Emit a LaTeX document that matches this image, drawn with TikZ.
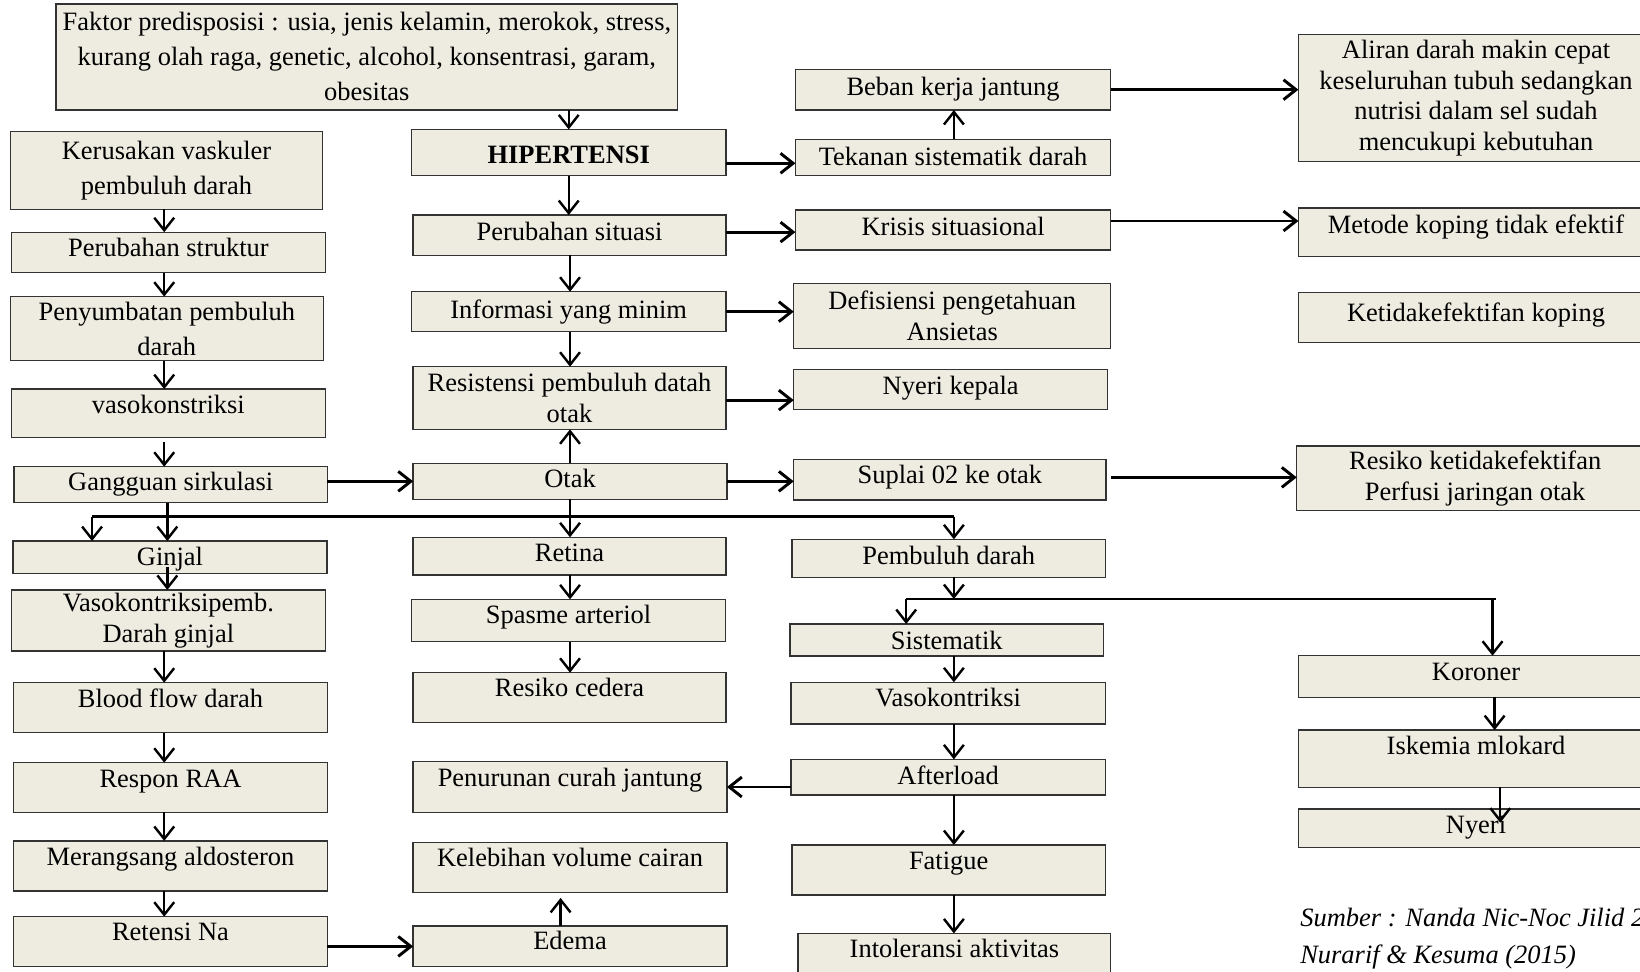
\documentclass[tikz,border=0pt]{standalone}
\usepackage{fontspec}
\setmainfont{Liberation Serif}
\usetikzlibrary{arrows.meta,calc}
\definecolor{boxfill}{HTML}{EEECE1}
\definecolor{boxline}{HTML}{333333}
\newcommand\bx[7][]{\node[box,#1,minimum width={#5-#3},minimum height={#6-#4}] (#2) at ({(#3+#5)/2},{(#4+#6)/2}) {#7};}
\newcommand\rz[2]{\raisebox{#1pt}{#2}}
\begin{document}
\begin{tikzpicture}[x=1pt,y=-1pt,
  box/.style={draw=boxline, fill=boxfill, line width=1.3pt, inner sep=0pt, outer sep=0pt, font=\fontsize{25.3}{29.3}\selectfont},
  one/.style={text height=17pt, text depth=6pt},
  ml/.style={align=center},
  wide/.style={font=\fontsize{25.3}{33.5}\selectfont},
  arr/.style={line width=2.3pt, -{Straight Barb[length=12pt,width=19pt]}},
  harr/.style={line width=2.8pt, -{Straight Barb[length=12pt,width=19pt]}},
  ln/.style={line width=2.3pt},
  src/.style={anchor=base west, inner sep=0pt, font=\itshape\fontsize{25.3}{29.3}\selectfont}]
\useasboundingbox (0,0) rectangle (1568,929);

% left column
\bx[wide,ml]{fak}{53.5}{3.8}{648}{105}{Faktor predisposisi : usia, jenis kelamin, merokok, stress,\\kurang olah raga, genetic, alcohol, konsentrasi, garam,\\obesitas}
\bx[wide,ml]{ker}{10}{126}{308.5}{200}{Kerusakan vaskuler\\pembuluh darah}
\bx[one]{pstr}{11}{222}{311}{260.7}{\rz{1.5}{Perubahan struktur}}
\bx[wide,ml]{peny}{10}{283.6}{309}{344.8}{Penyumbatan pembuluh\\darah}
\bx[one]{vkon}{11}{372}{311}{418}{\rz{5.5}{vasokonstriksi}}
\bx[one]{gang}{13.5}{446.2}{313}{480.6}{Gangguan sirkulasi}
\bx[one]{ginj}{12.5}{517.3}{312.6}{548.2}{\rz{-2.5}{Ginjal}}
\bx[ml]{vgin}{11}{564}{311}{622.5}{Vasokontriksipemb.\\Darah ginjal}
\bx[one]{blood}{13}{652.7}{313}{700.5}{\rz{5.8}{Blood flow darah}}
\bx[one]{raa}{13}{729.2}{313}{776.7}{\rz{5.7}{Respon RAA}}
\bx[one]{ald}{13}{804}{313}{851.9}{\rz{5.8}{Merangsang aldosteron}}
\bx[one]{na}{13}{876.4}{313}{924.3}{\rz{6.5}{Retensi Na}}

% middle column
\bx[one]{hip}{393.5}{123.7}{694}{168}{\bfseries\rz{-4.8}{HIPERTENSI}}
\bx[one]{ps}{395}{205.6}{694}{244}{\rz{0.8}{Perubahan situasi}}
\bx[one]{info}{393.5}{278.9}{694}{317.1}{\rz{-0.9}{Informasi yang minim}}
\bx[ml]{res}{395}{350.6}{694}{410.5}{Resistensi pembuluh datah\\otak}
\bx[one]{otak}{395}{443}{695}{477.4}{Otak}
\bx[one]{ret}{395}{513.7}{694}{549.8}{Retina}
\bx[one]{spa}{393.5}{573}{693.6}{613.5}{\rz{2.7}{Spasme arteriol}}
\bx[one]{ced}{395}{643.2}{694}{691}{\rz{6.5}{Resiko cedera}}
\bx[one]{pen}{395}{728.2}{695}{776.7}{\rz{5.8}{Penurunan curah jantung}}
\bx[one]{kel}{395}{805.7}{695}{853.5}{\rz{6.4}{Kelebihan volume cairan}}
\bx[one]{ede}{395}{885.4}{695}{924.3}{\rz{2.1}{Edema}}

% third column
\bx[one]{beb}{760.5}{66.3}{1062}{105.2}{Beban kerja jantung}
\bx[one]{tek}{760.5}{133.2}{1062}{168}{\rz{-2.3}{Tekanan sistematik darah}}
\bx[one]{kri}{760.5}{200.8}{1062}{239}{Krisis situasional}
\bx[ml]{def}{758.9}{270.9}{1062}{333}{Defisiensi pengetahuan\\Ansietas}
\bx[one]{nk}{758.9}{353.1}{1058.9}{391.4}{\rz{1}{Nyeri kepala}}
\bx[one]{sup}{758.9}{439.2}{1057.5}{478}{\rz{2}{Suplai 02 ke otak}}
\bx[one]{pd}{757.3}{515.6}{1056.8}{552}{Pembuluh darah}
\bx[one]{sis}{755.2}{596.6}{1055.2}{627.2}{\rz{-3.4}{Sistematik}}
\bx[one]{vas}{756.3}{652.3}{1056.8}{692.2}{\rz{2.1}{Vasokontriksi}}
\bx[one]{aft}{756.3}{726}{1056.8}{760.1}{\rz{-1.1}{Afterload}}
\bx[one]{fat}{757.3}{807.9}{1056.8}{855.7}{\rz{6.1}{Fatigue}}
\bx[one]{int}{763.1}{892.4}{1062}{940}{\rz{6.1}{Intoleransi aktivitas}}

% right column
\bx[ml]{ali}{1241.4}{32.8}{1581}{154.6}{Aliran darah makin cepat\\keseluruhan tubuh sedangkan\\nutrisi dalam sel sudah\\mencukupi kebutuhan}
\bx[one]{met}{1241.4}{199}{1581}{245.4}{\rz{4.7}{Metode koping tidak efektif}}
\bx[one]{ket}{1241.4}{279.5}{1581}{327.6}{\rz{1.5}{Ketidakefektifan koping}}
\bx[ml]{rk}{1239.8}{426.4}{1581}{488.3}{Resiko ketidakefektifan\\Perfusi jaringan otak}
\bx[one]{kor}{1241.4}{626.9}{1581}{666.7}{\rz{2.1}{Koroner}}
\bx[one]{isk}{1241.4}{698}{1581}{752.8}{\rz{9.9}{Iskemia mlokard}}
\bx[one]{nye}{1241.4}{773.5}{1581}{810.1}{\rz{0.5}{Nyeri}}

\node[src] (src1) at (1243,886) {Sumber : Nanda Nic-Noc Jilid 2};
\node[src] (src2) at (1243,921) {Nurarif \& Kesuma (2015)};

% helper columns
\coordinate (xL) at (157,0);
\coordinate (xG) at (160,0);
\coordinate (xM) at (545,0);
\coordinate (xR) at (912,0);
\coordinate (xK) at (1427,0);
\coordinate (xK2) at (1429,0);
\coordinate (xK3) at (1434.4,0);

% middle vertical
\draw[arr] (hip.north |- fak.south) -- (hip.north);
\draw[arr] (hip.south) -- (hip.south |- ps.north);
\draw[arr] (xM |- ps.south) -- (xM |- info.north);
\draw[arr] (xM |- info.south) -- (xM |- res.north);
\draw[arr] (xM |- otak.north) -- (xM |- res.south);
\draw[arr] (xM |- otak.south) -- (xM |- ret.north);
\draw[arr] (xM |- ret.south) -- (xM |- spa.north);
\draw[arr] (xM |- spa.south) -- (xM |- ced.north);
\coordinate (edT) at ($(kel.south)+(-9,5)$);
\draw[arr] (ede.north -| edT) -- (edT);

% left vertical
\draw[arr] (xL |- ker.south) -- (xL |- pstr.north);
\draw[arr] (xL |- pstr.south) -- (xL |- peny.north);
\draw[arr] (xL |- peny.south) -- (xL |- vkon.north);
\draw[arr, shorten <=5pt] (xL |- vkon.south) -- (xL |- gang.north);
\draw[arr] (xG |- gang.south) -- (xG |- ginj.north);
\coordinate (gjS) at ($(xG |- ginj.south)+(0,-6.4)$);
\draw[arr] (gjS) -- (gjS |- vgin.north);
\draw[arr] (xL |- vgin.south) -- (xL |- blood.north);
\draw[arr] (xL |- blood.south) -- (xL |- raa.north);
\draw[arr] (xL |- raa.south) -- (xL |- ald.north);
\draw[arr] (xL |- ald.south) -- (xL |- na.north);

% first branch
\coordinate (bL) at (88,494);
\draw[ln] (bL) -- (bL -| xR);
\draw[arr] (bL) -- (bL |- ginj.north);
\draw[arr] (bL -| xR) -- (xR |- pd.north);

% second branch
\coordinate (b2L) at (866.4,572.7);
\coordinate (b2R) at (1430,572.7);
\draw[arr] (xR |- pd.south) -- (xR |- b2L);
\draw[ln] (b2L) -- (b2R);
\draw[arr] (b2L) -- (b2L |- sis.north);
\draw[arr] (xK |- b2R) -- (xK |- kor.north);

% third column vertical
\draw[arr] (xR |- tek.north) -- (xR |- beb.south);
\draw[arr] (xR |- sis.south) -- (xR |- vas.north);
\draw[arr] (xR |- vas.south) -- (xR |- aft.north);
\draw[arr] (xR |- aft.south) -- (xR |- fat.north);
\draw[arr] (xR |- fat.south) -- (xR |- int.north);

% right column vertical
\draw[arr] (xK2 |- kor.south) -- (xK2 |- isk.north);
\coordinate (nyT) at ($(xK3 |- nye.north)+(0,13)$);
\draw[arr] (xK3 |- isk.south) -- (nyT);

% horizontal arrows
\coordinate (h1) at ($(tek.west)+(0,5.5)$);
\draw[harr] (hip.east |- h1) -- (h1);
\coordinate (h2) at ($(kri.west)+(0,2)$);
\draw[harr] (ps.east |- h2) -- (h2);
\draw[harr] (beb.east) -- (beb.east -| ali.west);
\coordinate (h4) at ($(kri.east)+(0,-8.6)$);
\draw[harr] (h4) -- (h4 -| met.west);
\draw[harr] (info.east) -- (info.east -| def.west);
\coordinate (h6) at ($(res.east)+(0,2)$);
\draw[harr] (h6) -- (h6 -| nk.west);
\draw[harr] (otak.east) -- (otak.east -| sup.west);
\draw[harr] (gang.east |- otak.west) -- (otak.west);
\coordinate (h9) at ($(sup.east)+(4.5,-2.2)$);
\draw[harr] (h9) -- (h9 -| rk.west);
\draw[harr] (ede.west -| na.east) -- (ede.west);
\draw[harr] (aft.west |- pen.east) -- (pen.east);
\end{tikzpicture}
\end{document}
